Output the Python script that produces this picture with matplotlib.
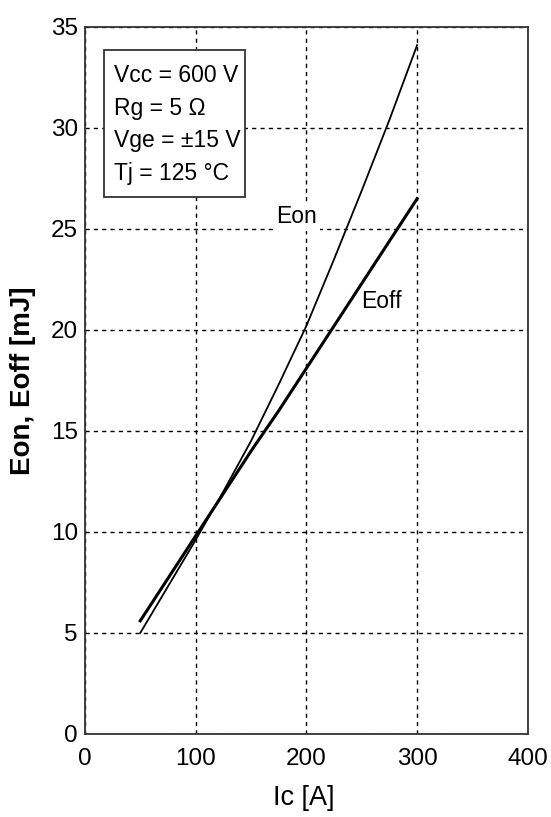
import matplotlib
matplotlib.use("Agg")
import matplotlib.pyplot as plt
from matplotlib.patches import Rectangle

# collector current [A]
ic = [50, 75, 100, 125, 150, 175, 200, 225, 250, 275, 300]
# switching energies [mJ]
e_on = [5.0, 7.3, 9.6, 12.0, 14.5, 17.3, 20.2, 23.5, 26.9, 30.4, 34.1]
e_off = [5.6, 7.7, 9.8, 11.9, 14.0, 16.0, 18.1, 20.2, 22.3, 24.4, 26.5]

x_ticks = [0, 100, 200, 300, 400]
y_ticks = [0, 5, 10, 15, 20, 25, 30, 35]
conditions = ["Vcc = 600 V", "Rg = 5 Ω", "Vge = ±15 V", "Tj = 125 °C"]

plt.rcParams["font.family"] = ["Liberation Sans", "DejaVu Sans"]

fig = plt.figure(figsize=(5.51, 8.17), dpi=100, facecolor="white")
ax = fig.add_axes([0.154, 0.1016, 0.804, 0.8654])

ax.plot(ic, e_on, color="black", lw=1.3, zorder=3)
ax.plot(ic, e_off, color="black", lw=2.2, zorder=3)

ax.set_xlim(0, 400)
ax.set_ylim(0, 35)
ax.set_xticks(x_ticks)
ax.set_yticks(y_ticks)
ax.tick_params(length=0, labelsize=17.5)
ax.tick_params(axis="x", pad=10)
ax.tick_params(axis="y", pad=5)
ax.grid(True, color="black", linestyle=(0, (3, 3)), lw=1.0)
for s in ax.spines.values():
    s.set_linewidth(1.3)
    s.set_color("#333333")

# curve labels, white boxes cut the grid but sit under the curves
ax.text(191, 25.6, "Eon", fontsize=16.5, ha="center", va="center",
        bbox=dict(facecolor="white", edgecolor="none", pad=2), zorder=2.5)
ax.text(268, 21.4, "Eoff", fontsize=16.5, ha="center", va="center",
        bbox=dict(facecolor="white", edgecolor="none", pad=2), zorder=2.5)

# test conditions box
ax.add_patch(Rectangle((0.043, 0.7595), 0.318, 0.208, transform=ax.transAxes,
                       facecolor="white", edgecolor="#333333", lw=1.3, zorder=5))
for txt, yy in zip(conditions, [0.931, 0.884, 0.840, 0.793]):
    ax.text(0.066, yy, txt, transform=ax.transAxes, fontsize=16.5,
            ha="left", va="center", zorder=6)

fig.text(0.552, 0.023, "Ic [A]", fontsize=19.5, ha="center", va="center")
fig.text(0.042, 0.534, "Eon, Eoff [mJ]", fontsize=20, fontweight="bold",
         ha="center", va="center", rotation=90)

fig.savefig("out.png", dpi=100, facecolor="white")
